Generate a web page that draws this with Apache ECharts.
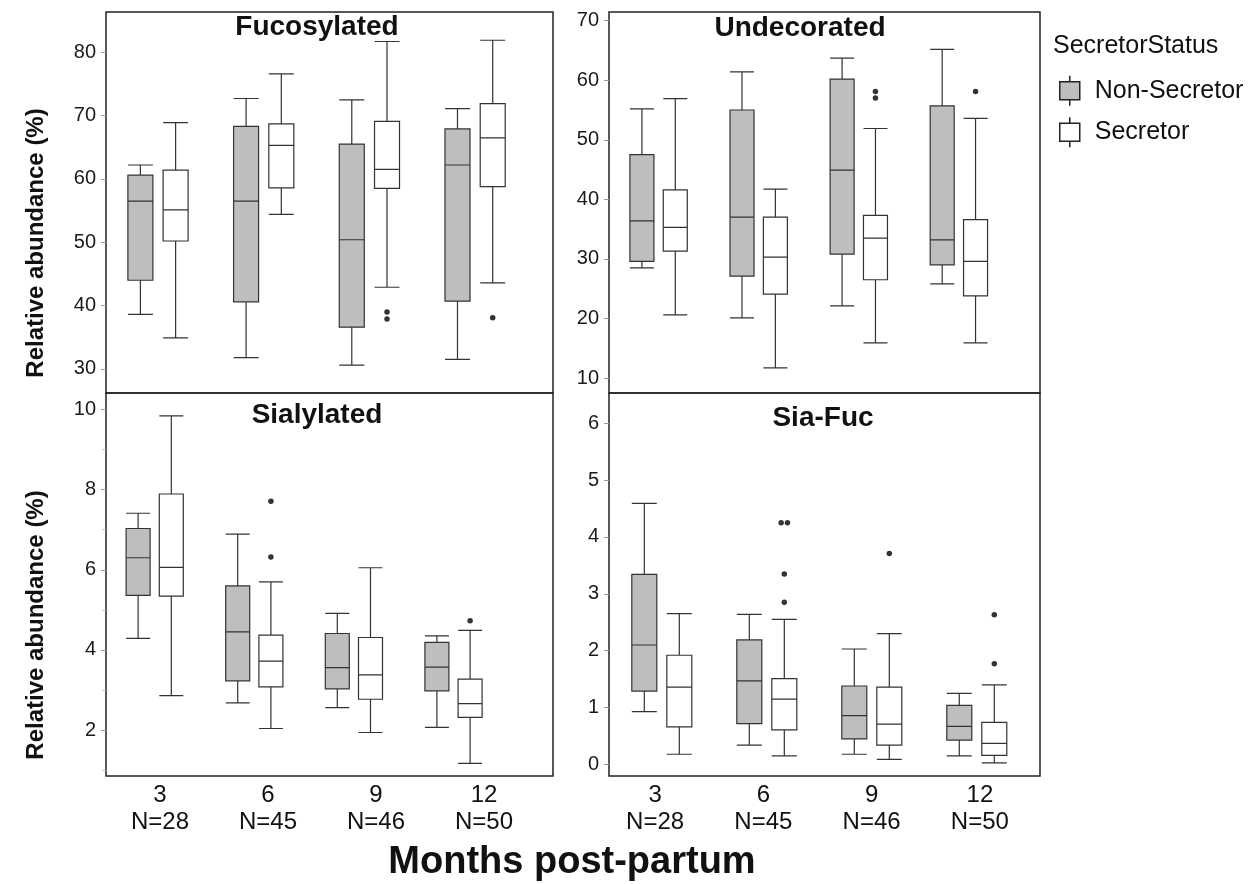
<!DOCTYPE html>
<html>
<head>
<meta charset="utf-8">
<script src="https://cdn.jsdelivr.net/npm/echarts@6/dist/echarts.min.js"></script>
<style>
html, body { margin: 0; background: #fff; }
#chart { width: 1258px; height: 884px; }
</style>
</head>
<body>
<div id="chart"></div>
<script>
let months = ['3', '6', '9', '12']
let counts = ['N=28', 'N=45', 'N=46', 'N=50']
let statusNames = ['Non-Secretor', 'Secretor']

// one box per month: [min, Q1, median, Q3, max]
let fucNonSec = [[38.6, 44.0, 56.5, 60.6, 62.2], [31.8, 40.6, 56.5, 68.3, 72.7], [30.6, 36.6, 50.4, 65.5, 72.5], [31.5, 40.7, 62.2, 67.9, 71.1]]
let fucSec = [[34.9, 50.2, 55.1, 61.4, 68.9], [54.4, 58.6, 65.3, 68.7, 76.6], [42.9, 58.5, 61.5, 69.1, 81.7], [43.6, 58.8, 66.5, 71.9, 81.9]]
let fucSecOut = [[], [], [39.0, 37.9], [38.1]]
let fucTicks = [30, 40, 50, 60, 70, 80]

let undNonSec = [[28.5, 29.6, 36.4, 47.5, 55.2], [20.1, 27.1, 37.0, 55.0, 61.4], [22.1, 30.8, 44.9, 60.2, 63.7], [25.8, 29.0, 33.2, 55.7, 65.2]]
let undSec = [[20.6, 31.3, 35.3, 41.6, 56.9], [11.7, 24.1, 30.3, 37.0, 41.7], [15.9, 26.5, 33.5, 37.3, 51.9], [15.9, 23.8, 29.6, 36.6, 53.6]]
let undSecOut = [[], [], [58.1, 57.0], [58.1]]
let undTicks = [10, 20, 30, 40, 50, 60, 70]

let siaNonSec = [[4.29, 5.36, 6.30, 7.03, 7.41], [2.68, 3.23, 4.45, 5.60, 6.89], [2.56, 3.03, 3.56, 4.41, 4.91], [2.07, 2.98, 3.57, 4.19, 4.35]]
let siaSec = [[2.86, 5.34, 6.06, 7.89, 9.84], [2.04, 3.08, 3.72, 4.37, 5.70], [1.94, 2.77, 3.38, 4.31, 6.05], [1.17, 2.32, 2.66, 3.27, 4.49]]
let siaSecOut = [[], [7.71, 6.32], [], [4.73]]
let siaTicks = [2, 4, 6, 8, 10]
let siaMinorTicks = [1, 3, 5, 7, 9]

let sfNonSec = [[0.93, 1.29, 2.10, 3.34, 4.59], [0.34, 0.72, 1.47, 2.19, 2.64], [0.18, 0.45, 0.86, 1.38, 2.03], [0.15, 0.43, 0.67, 1.04, 1.25]]
let sfSec = [[0.18, 0.66, 1.36, 1.92, 2.65], [0.15, 0.61, 1.15, 1.51, 2.55], [0.09, 0.34, 0.71, 1.36, 2.30], [0.03, 0.16, 0.37, 0.74, 1.40]]
let sfSecOut = [[], [4.25, 4.25, 3.35, 2.85], [3.71], [2.63, 1.77]]
let sfTicks = [0, 1, 2, 3, 4, 5, 6]

let panels = [
	{ title: 'Fucosylated', nonSec: fucNonSec, sec: fucSec, out: fucSecOut, ticks: fucTicks },
	{ title: 'Undecorated', nonSec: undNonSec, sec: undSec, out: undSecOut, ticks: undTicks },
	{ title: 'Sialylated', nonSec: siaNonSec, sec: siaSec, out: siaSecOut, ticks: siaTicks },
	{ title: 'Sia-Fuc', nonSec: sfNonSec, sec: sfSec, out: sfSecOut, ticks: sfTicks }
]

// the four panels were pasted together, each has its own frame and scale
let layout = [
	{ left: 106, top: 12, width: 447, height: 381, xMin: 0.508, xMax: 4.737, yMin: 26.2, yMax: 86.36, box: 25, tx: 317, ty: 27 },
	{ left: 609, top: 12, width: 431, height: 381, xMin: 0.5045, xMax: 4.8105, yMin: 7.48, yMax: 71.46, box: 24, tx: 800, ty: 28 },
	{ left: 106, top: 393, width: 447, height: 383, xMin: 0.511, xMax: 4.999, yMin: 0.855, yMax: 10.41, box: 24, tx: 317, ty: 415 },
	{ left: 609, top: 393, width: 431, height: 383, xMin: 0.497, xMax: 4.602, yMin: -0.202, yMax: 6.529, box: 25, tx: 823, ty: 418 }
]

let font = '"Liberation Sans", Arial, Helvetica, sans-serif'
let fills = ['#bebebe', '#ffffff']
let dodge = 1 / 6
let iconPath = 'path://M10,0L10,6M0,6L20,6L20,24L0,24ZM10,24L10,30'

let grid = [], xAxis = [], yAxis = [], series = [], graphic = []

panels.forEach((p, k) => {
	let l = layout[k]
	grid.push({
		left: l.left, top: l.top, width: l.width, height: l.height,
		show: true, borderColor: '#222', borderWidth: 1.5, backgroundColor: 'transparent'
	})
	xAxis.push({ type: 'value', gridIndex: k, min: l.xMin, max: l.xMax, show: false })
	xAxis.push({ type: 'value', gridIndex: k, min: l.xMin, max: l.xMax, show: false })
	yAxis.push({
		type: 'value', gridIndex: k, min: l.yMin, max: l.yMax,
		axisLine: { show: false },
		axisTick: { show: true, length: 5, customValues: p.ticks, lineStyle: { color: '#999', width: 1 } },
		axisLabel: { customValues: p.ticks, fontFamily: font, fontSize: 20, color: '#1a1a1a', margin: 10 },
		splitLine: { show: false }
	})

	// boxes: non-secretor left of the month, secretor right of it
	;[p.nonSec, p.sec].forEach((vals, s) => {
		series.push({
			type: 'boxplot',
			name: statusNames[s],
			xAxisIndex: k * 2 + s,
			yAxisIndex: k,
			boxWidth: [l.box, l.box],
			silent: true,
			itemStyle: { color: fills[s], borderColor: '#333', borderWidth: 1.2 },
			data: vals.map((v, i) => [i + 1 + (s === 0 ? -dodge : dodge), ...v])
		})
	})

	// outliers, equal values side by side
	let pts = []
	p.out.forEach((vals, i) => {
		vals.forEach((v, j) => {
			let same = vals.filter(u => u === v).length
			let rank = vals.slice(0, j).filter(u => u === v).length
			pts.push([i + 1 + dodge + (rank - (same - 1) / 2) * 0.06, v])
		})
	})
	series.push({
		type: 'scatter', name: 'outlier', xAxisIndex: k * 2 + 1, yAxisIndex: k,
		symbolSize: 5.5, silent: true, itemStyle: { color: '#000' }, data: pts
	})

	graphic.push({
		type: 'text', x: l.tx, y: l.ty, silent: true,
		style: { text: p.title, font: 'bold 28px ' + font, align: 'center', verticalAlign: 'middle', fill: '#111' }
	})
})

// minor ticks on the sialylated axis
yAxis.push({
	type: 'value', gridIndex: 2, position: 'left', min: layout[2].yMin, max: layout[2].yMax,
	axisLine: { show: false }, axisLabel: { show: false }, splitLine: { show: false },
	axisTick: { show: true, length: 3.5, customValues: siaMinorTicks, lineStyle: { color: '#bbb' } }
})

// month labels under the bottom row
let labelGrids = [{ left: 106, width: 432 }, { left: 601, width: 433 }]
labelGrids.forEach((g, j) => {
	let gi = 4 + j
	grid.push({ left: g.left, width: g.width, top: 393, height: 383, show: false })
	xAxis.push({
		type: 'category', gridIndex: gi, data: months,
		axisLine: { show: false }, axisTick: { show: false },
		axisLabel: {
			interval: 0, margin: 6, fontFamily: font, fontSize: 24, lineHeight: 27, color: '#111',
			formatter: (v, i) => v + '\n' + counts[i]
		}
	})
	yAxis.push({ type: 'value', gridIndex: gi, show: false })
})

// y titles sit a bit below the panel middle, as in the pasted plots
;[243, 625].forEach(cy => {
	graphic.push({
		type: 'text', x: 36, y: cy, rotation: Math.PI / 2, silent: true,
		style: { text: 'Relative abundance (%)', font: 'bold 24px ' + font, align: 'center', verticalAlign: 'middle', fill: '#111' }
	})
})

graphic.push({
	type: 'text', x: 572, y: 863, silent: true,
	style: { text: 'Months post-partum', font: 'bold 38px ' + font, align: 'center', verticalAlign: 'middle', fill: '#111' }
})
graphic.push({
	type: 'text', x: 1053, y: 46, silent: true,
	style: { text: 'SecretorStatus', font: '25px ' + font, align: 'left', verticalAlign: 'middle', fill: '#111' }
})

let chart = echarts.init(document.getElementById('chart'))
chart.setOption({
	animation: false,
	backgroundColor: '#fff',
	grid: grid,
	xAxis: xAxis,
	yAxis: yAxis,
	legend: {
		orient: 'vertical', left: 1059, top: 75, padding: 0,
		itemWidth: 40, itemHeight: 30, itemGap: 10, selectedMode: false,
		textStyle: { fontFamily: font, fontSize: 25, color: '#111' },
		data: statusNames.map((n, s) => ({
			name: n, icon: iconPath,
			itemStyle: { color: fills[s], borderColor: '#222', borderWidth: 1.5 }
		}))
	},
	graphic: graphic,
	series: series
})
</script>
</body>
</html>
